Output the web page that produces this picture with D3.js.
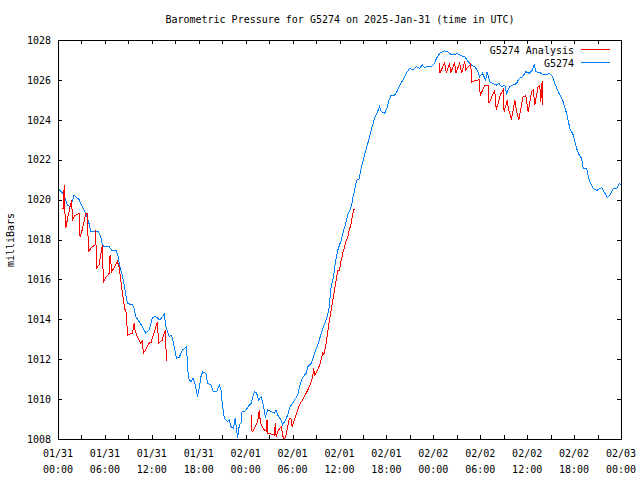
<!DOCTYPE html>
<html><head><meta charset="utf-8">
<script src="https://cdn.jsdelivr.net/npm/d3@7"></script>
<style>
body{margin:0;background:#fff;}
text{font-family:"DejaVu Sans Mono","Liberation Mono",monospace;font-size:10px;fill:#000;}
</style></head>
<body>
<svg id="chart" width="640" height="480"></svg>
<script>
// ---- data (hours since 2025-01-31 00:00 UTC, pressure in mb) ----
const pressureHours = [0,0.13,0.77,1.19,1.63,2.05,2.69,3.11,3.55,3.97,4.19,4.61,5.16,5.47,5.68,5.89,6.53,6.88,7.47,7.69,7.9,8.16,8.33,8.58,8.75,8.88,9.52,9.74,9.95,10.38,10.8,11.24,11.66,12.08,12.52,13.03,13.58,13.8,14.22,14.44,14.64,14.86,15.15,15.5,15.92,16.44,16.56,16.69,17.0,17.29,17.55,17.85,18.06,18.28,18.49,18.92,19.13,19.56,19.86,20.28,20.63,20.84,21.05,21.27,21.69,21.91,22.12,22.42,22.67,22.84,22.97,23.19,23.4,23.53,23.83,24.05,24.47,24.69,25.11,25.4,25.66,25.97,26.26,26.52,26.81,27.25,27.67,27.89,28.09,28.53,28.73,29.08,29.37,29.68,30.02,30.23,30.66,30.87,31.3,31.73,31.94,32.37,32.8,33.22,33.44,33.86,34.29,34.63,34.93,35.23,35.49,35.78,36.22,36.42,36.73,37.06,37.5,37.7,38.01,38.21,38.47,38.78,39.2,39.62,40.06,40.48,40.78,41.12,41.34,41.76,42.06,42.31,42.62,43.04,43.34,43.68,44.11,44.54,44.97,45.39,45.82,46.25,46.59,46.89,47.31,47.75,48.17,48.39,48.81,49.45,49.87,50.31,50.73,51.03,51.59,52.01,52.43,52.87,53.29,53.59,53.93,54.28,54.7,54.87,55.21,55.64,56.07,56.41,56.71,57.14,57.36,57.78,58.2,58.64,58.97,59.4,59.83,60.25,60.68,60.89,61.11,61.62,62.04,62.48,62.81,63.24,63.54,63.96,64.4,64.6,65.04,65.46,65.89,66.32,66.65,66.96,67.17,67.6,67.94,68.45,68.89,69.31,69.53,69.95,70.25,70.59,71.02,71.45,71.78,72];
const pressureValues = [1020.5,1020.52,1020.23,1019.73,1019.64,1020.23,1020.0,1019.64,1019.3,1018.8,1018.4,1018.4,1018.4,1018.14,1017.72,1017.64,1017.64,1017.47,1017.45,1017.14,1016.64,1016.3,1015.97,1015.47,1015.05,1014.8,1014.72,1014.55,1014.13,1013.88,1013.63,1013.3,1013.46,1014.1,1014.13,1013.96,1014.25,1013.63,1013.13,1013.2,1013.05,1012.63,1012.04,1012.1,1012.46,1012.63,1011.7,1011.04,1010.87,1011.04,1010.7,1010.12,1010.54,1011.12,1011.37,1011.29,1010.79,1010.7,1010.37,1010.37,1010.7,1010.46,1009.62,1009.04,1008.87,1008.95,1008.62,1008.54,1009.04,1008.45,1008.04,1008.7,1008.79,1009.37,1009.37,1009.45,1009.7,1009.79,1010.37,1010.3,1009.95,1010.12,1009.7,1009.12,1009.45,1009.37,1009.29,1009.45,1009.2,1008.95,1008.7,1008.95,1009.2,1009.62,1009.79,1009.95,1010.2,1010.62,1011.1,1011.29,1011.62,1011.79,1012.3,1012.71,1013.0,1013.55,1013.96,1014.47,1015.63,1016.13,1016.89,1017.47,1017.97,1018.3,1018.72,1019.23,1019.64,1020.06,1020.64,1020.98,1021.0,1021.57,1022.24,1022.82,1023.49,1024.07,1024.32,1024.66,1024.4,1024.32,1024.57,1024.99,1025.24,1025.24,1025.41,1025.7,1025.99,1026.33,1026.58,1026.5,1026.66,1026.58,1026.75,1026.62,1026.7,1026.66,1026.83,1027.08,1027.33,1027.46,1027.41,1027.25,1027.25,1027.33,1027.2,1027.17,1026.92,1026.75,1026.66,1026.5,1026.16,1026.33,1025.99,1026.41,1025.91,1025.82,1025.74,1025.82,1025.66,1025.74,1025.32,1025.66,1025.74,1025.82,1026.07,1026.16,1026.41,1026.33,1026.5,1026.75,1026.41,1026.37,1026.25,1026.25,1026.33,1026.16,1025.82,1025.41,1025.07,1024.91,1024.32,1023.57,1023.24,1022.57,1022.24,1022.07,1021.57,1021.57,1020.98,1020.56,1020.45,1020.56,1020.6,1020.31,1020.11,1020.23,1020.56,1020.56,1020.81,1020.73];

// null entries mark gaps in the analysis series
const analysisHours = [0.64,0.64,0.81,0.81,0.99,1.19,1.41,1.76,1.83,2.18,2.69,2.82,3.11,3.55,3.78,3.88,4.39,4.74,4.83,4.91,5.25,5.68,5.8,6.11,6.53,6.66,6.88,7.6,7.81,8.03,8.24,8.46,8.58,8.75,8.88,9.52,9.74,9.86,10.16,10.59,10.76,10.93,11.24,11.66,11.91,12.72,12.85,13.32,13.71,13.8,13.84,
  null,
  24.69,24.69,24.89,25.53,25.75,25.88,26.39,26.68,26.73,26.81,27.67,27.8,27.89,28.09,28.53,28.82,28.95,29.17,29.59,29.79,29.94,30.66,30.87,31.39,31.73,31.94,32.24,32.58,32.67,32.86,33.22,33.53,33.86,34.01,34.29,34.5,34.72,34.93,35.14,35.36,35.57,35.78,36.0,36.22,36.42,36.64,36.86,37.02,37.19,37.5,37.7,37.83,38.01,
  null,
  48.81,48.81,49.45,49.67,50.09,50.22,50.73,50.86,51.37,51.63,52.01,52.13,52.78,52.91,53.51,53.87,54.0,54.57,55.02,55.12,55.85,56.05,56.62,56.92,57.05,57.46,57.58,57.99,58.42,58.61,58.93,59.48,59.83,60.12,60.56,60.79,60.98,61.4,61.62,61.75,61.84,61.97,62.01];
const analysisValues = [1020.07,1019.55,1020.75,1019.95,1018.56,1018.98,1019.4,1020.0,1018.98,1019.2,1019.3,1018.14,1018.5,1019.3,1019.3,1017.39,1017.64,1017.72,1018.47,1016.56,1016.72,1017.72,1015.88,1016.1,1016.3,1017.22,1016.39,1016.89,1016.64,1015.97,1015.3,1014.72,1014.47,1014.3,1013.21,1013.3,1013.8,1013.4,1013.13,1012.8,1012.9,1012.3,1012.5,1012.8,1012.85,1013.88,1012.8,1012.95,1013.46,1012.8,1011.9,
  null,
  1009.2,1008.45,1008.37,1008.87,1009.45,1008.8,1008.45,1008.37,1008.95,1008.29,1008.2,1008.79,1008.12,1008.37,1008.62,1008.04,1007.95,1008.2,1009.04,1009.04,1008.62,1009.45,1009.7,1010.04,1010.29,1010.46,1010.7,1011.12,1011.54,1011.2,1011.46,1011.79,1012.3,1012.25,1012.8,1013.38,1013.96,1014.47,1014.97,1015.47,1015.97,1016.47,1016.47,1016.97,1017.31,1017.64,1017.97,1018.05,1018.39,1018.81,1019.31,1019.48,1019.48,
  null,
  1026.83,1026.33,1026.85,1026.33,1026.83,1026.33,1026.9,1026.33,1026.83,1026.33,1026.92,1026.5,1026.8,1025.9,1025.99,1026.0,1025.2,1025.74,1025.7,1024.82,1025.49,1024.5,1025.3,1025.49,1024.4,1025.0,1024.6,1024.0,1024.99,1024.5,1024.0,1025.16,1025.2,1024.4,1025.41,1025.5,1024.74,1025.66,1025.7,1024.9,1025.82,1025.9,1024.74];

const xTickDates = ["01/31","01/31","01/31","01/31","02/01","02/01","02/01","02/01","02/02","02/02","02/02","02/02","02/03"];
const xTickTimes = ["00:00","06:00","12:00","18:00","00:00","06:00","12:00","18:00","00:00","06:00","12:00","18:00","00:00"];
const yTicks = [1008,1010,1012,1014,1016,1018,1020,1022,1024,1026,1028];
const seriesNames = ["G5274 Analysis","G5274"];
const seriesColors = ["#ff0000","#0080ff"];

// ---- layout ----
const L = 58, R = 621, T = 40, B = 439;
const svg = d3.select("#chart");
const x = d3.scaleLinear().domain([0,72]).range([L,R]);
const y = d3.scaleLinear().domain([1008,1028]).range([B,T]);

svg.append("text").attr("x",340).attr("y",23).attr("text-anchor","middle")
  .text("Barometric Pressure for G5274 on 2025-Jan-31 (time in UTC)");

svg.append("defs").append("clipPath").attr("id","clip")
  .append("rect").attr("x",L).attr("y",T).attr("width",R-L+1).attr("height",B-T+1);

const xt = d3.range(0,73,3);
const gB = svg.append("g").attr("transform",`translate(0,${B})`)
  .call(d3.axisBottom(x).tickValues(xt).tickSize(-4).tickFormat(""));
const gT = svg.append("g").attr("transform",`translate(0,${T})`)
  .call(d3.axisTop(x).tickValues(xt).tickSize(-4).tickFormat(""));
const gL = svg.append("g").attr("transform",`translate(${L},0)`)
  .call(d3.axisLeft(y).tickValues(yTicks).tickSize(-4).tickPadding(7).tickFormat(d3.format("d")));
const gR = svg.append("g").attr("transform",`translate(${R},0)`)
  .call(d3.axisRight(y).tickValues(yTicks).tickSize(-4).tickFormat(""));
[gB,gT,gL,gR].forEach(g=>{
  g.select(".domain").remove();
  g.selectAll("line").attr("stroke","#000").attr("shape-rendering","crispEdges");
  g.selectAll("text").attr("font-family",null).attr("font-size",null).attr("fill","#000");
});

const xl = d3.range(0,73,6);
svg.append("g").selectAll("text").data(xl).join("text")
  .attr("x",d=>x(d)).attr("y",457).attr("text-anchor","middle").text((d,i)=>xTickDates[i]);
svg.append("g").selectAll("text").data(xl).join("text")
  .attr("x",d=>x(d)).attr("y",473).attr("text-anchor","middle").text((d,i)=>xTickTimes[i]);

svg.append("text").attr("transform","translate(14,240) rotate(-90)")
  .attr("text-anchor","middle").text("milliBars");

// data lines
const line = d3.line().defined(d=>d[0]!==null && d[1]!==null)
  .x(d=>x(d[0])).y(d=>y(d[1]));
const gD = svg.append("g").attr("clip-path","url(#clip)");
gD.append("path").datum(pressureHours.map((h,i)=>[h,pressureValues[i]]))
  .attr("d",line).attr("fill","none").attr("stroke",seriesColors[1]).attr("stroke-width",1)
  .attr("shape-rendering","crispEdges");
gD.append("path").datum(analysisHours.map((h,i)=>[h,analysisValues[i]]))
  .attr("d",line).attr("fill","none").attr("stroke",seriesColors[0]).attr("stroke-width",1)
  .attr("shape-rendering","crispEdges");

// border
svg.append("rect").attr("x",L+0.5).attr("y",T+0.5).attr("width",R-L).attr("height",B-T)
  .attr("fill","none").attr("stroke","#000").attr("shape-rendering","crispEdges");

// legend
const leg = svg.append("g");
seriesNames.forEach((n,i)=>{
  const yy = 50 + i*13;
  leg.append("text").attr("x",574).attr("y",yy+3.5).attr("text-anchor","end").text(n);
  leg.append("line").attr("x1",581).attr("x2",610).attr("y1",yy-0.5).attr("y2",yy-0.5)
    .attr("stroke",seriesColors[i]).attr("shape-rendering","crispEdges");
});
</script>
</body></html>
